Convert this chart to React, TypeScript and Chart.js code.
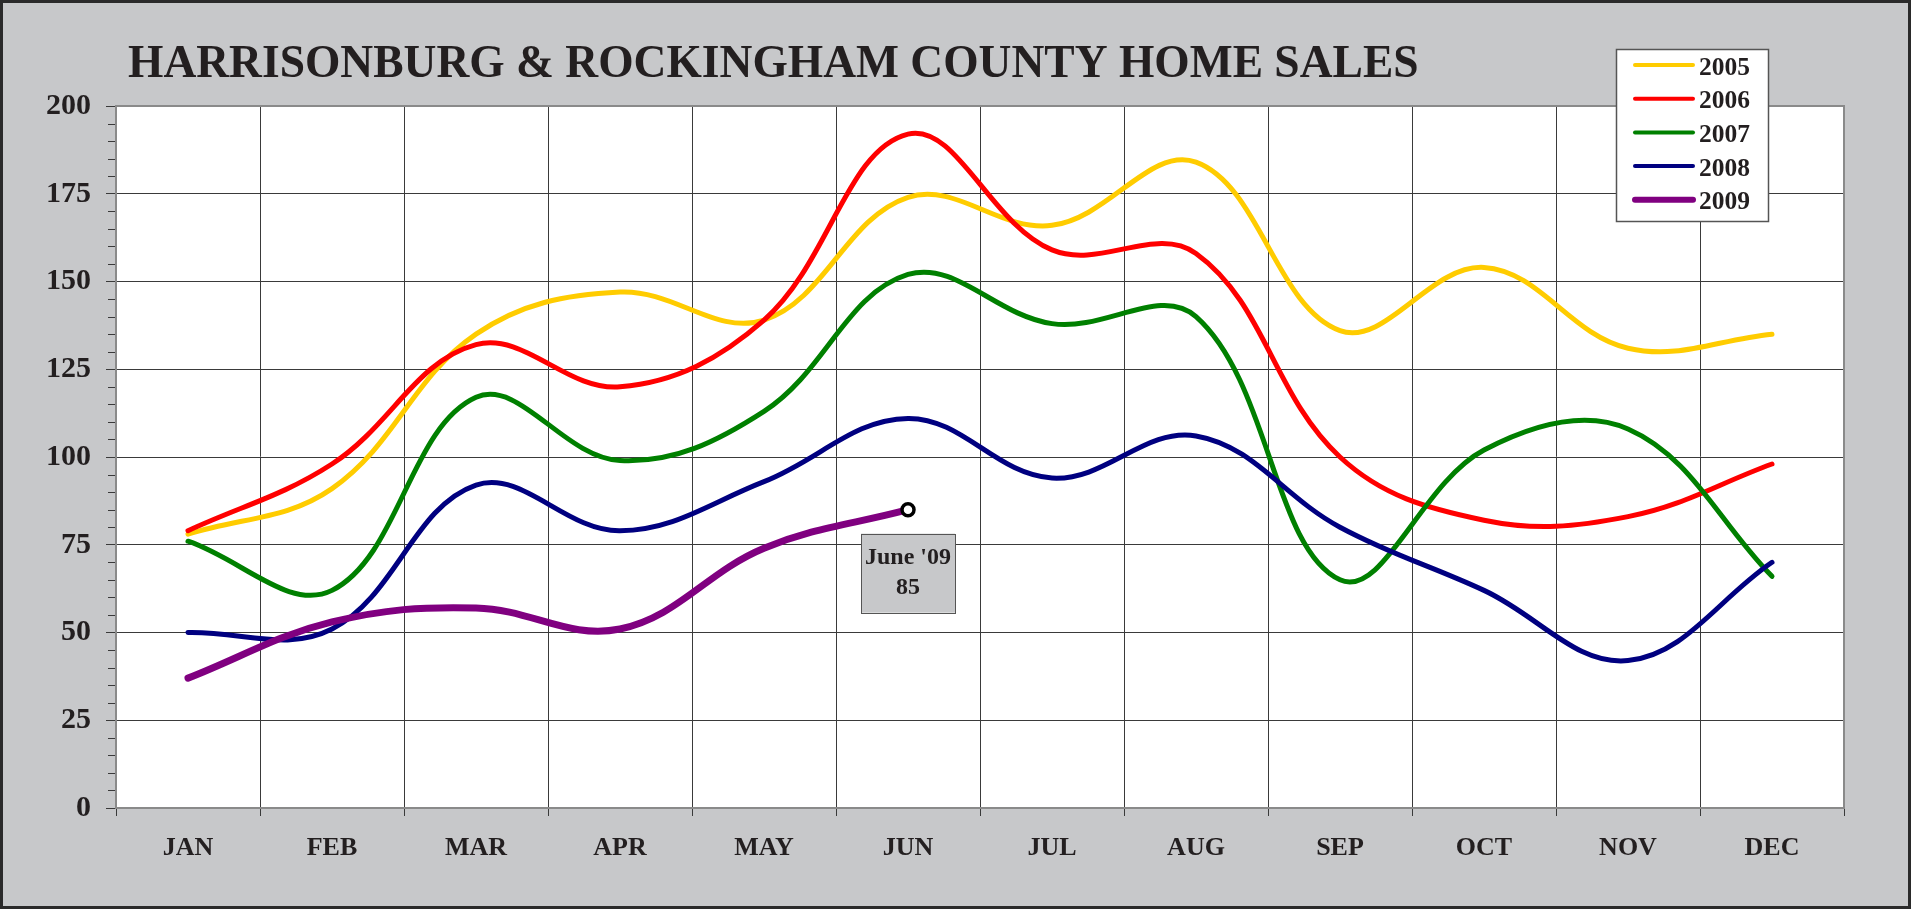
import React, { useEffect, useRef } from 'react';
import { Chart, registerables } from 'chart.js';

Chart.register(...registerables);

// ---- data ----
const MONTHS = ['JAN', 'FEB', 'MAR', 'APR', 'MAY', 'JUN', 'JUL', 'AUG', 'SEP', 'OCT', 'NOV', 'DEC'];
const YEARS = ['2005', '2006', '2007', '2008', '2009'];
const SALES_2005 = [78, 91, 135, 147, 139, 174, 166, 184, 136, 154, 131, 135];
const SALES_2006 = [79, 98, 132, 120, 139, 192, 159, 158, 100, 82, 83, 98];
const SALES_2007 = [76, 62, 117, 99, 113, 152, 138, 140, 65, 102, 108, 66];
const SALES_2008 = [50, 51, 92, 79, 93, 111, 94, 106, 80, 62, 42, 70];
const SALES_2009 = [37, 53, 57, 51, 74, 85];
const Y_MIN = 0;
const Y_MAX = 200;
const Y_STEP = 25;
const Y_MINOR_STEP = 5;
const TITLE = 'HARRISONBURG & ROCKINGHAM COUNTY HOME SALES';
const NOTE_LINES = ["June '09", '85'];

// ---- styles ----
const COLORS = ['#FFCC00', '#FF0000', '#008000', '#000080', '#800080'];
const WIDTHS = [5, 5, 5, 5, 7];
const SERIF = "'Liberation Serif', 'Times New Roman', serif";
const INK = '#231f20';
const BG = '#c7c8ca';
const GRID = '#3a3a3a';
const EDGE = '#8a8a8a';

const W = 1911;
const H = 909;

const decor = {
  id: 'decor',
  beforeDraw(chart: any) {
    const { ctx, chartArea: a } = chart;
    ctx.save();
    ctx.fillStyle = BG;
    ctx.fillRect(0, 0, chart.width, chart.height);
    ctx.fillStyle = '#ffffff';
    ctx.fillRect(a.left, a.top, a.right - a.left, a.bottom - a.top);
    ctx.restore();
  },
  beforeDatasetsDraw(chart: any) {
    const { ctx, chartArea: a } = chart;
    const y = chart.scales.y;
    ctx.save();
    ctx.strokeStyle = GRID;
    ctx.lineWidth = 1;
    ctx.beginPath();
    for (let v = Y_MIN; v <= Y_MAX; v += Y_MINOR_STEP) {
      if (v % Y_STEP === 0) continue;
      const py = Math.round(y.getPixelForValue(v)) + 0.5;
      ctx.moveTo(a.left - 8, py);
      ctx.lineTo(a.left, py);
    }
    ctx.stroke();
    ctx.strokeStyle = EDGE;
    ctx.lineWidth = 2;
    ctx.strokeRect(a.left, a.top, a.right - a.left, a.bottom - a.top);
    ctx.restore();
  },
  afterDraw(chart: any) {
    const { ctx } = chart;
    ctx.save();
    // title
    ctx.fillStyle = INK;
    ctx.font = `bold 45.5px ${SERIF}`;
    ctx.textAlign = 'left';
    ctx.textBaseline = 'alphabetic';
    ctx.fillText(TITLE, 128, 77);

    // legend
    const lx = 1616, ly = 49, lw = 152, lh = 172;
    ctx.fillStyle = '#ffffff';
    ctx.fillRect(lx, ly, lw, lh);
    ctx.strokeStyle = '#555555';
    ctx.lineWidth = 1.5;
    ctx.strokeRect(lx + 0.5, ly + 0.5, lw, lh);
    const ds = chart.data.datasets;
    ds.forEach((d: any, i: number) => {
      const yy = 65 + i * 33.7;
      ctx.strokeStyle = d.borderColor;
      ctx.lineWidth = i === 4 ? 6 : 4;
      ctx.lineCap = 'round';
      ctx.beginPath();
      ctx.moveTo(1635, yy);
      ctx.lineTo(1693, yy);
      ctx.stroke();
      ctx.fillStyle = INK;
      ctx.font = `bold 25.5px ${SERIF}`;
      ctx.textBaseline = 'middle';
      ctx.textAlign = 'left';
      ctx.fillText(d.label, 1699, yy + 3);
    });

    // annotation at the last 2009 point
    const meta = chart.getDatasetMeta(4);
    const pt = meta.data[meta.data.length - 1];
    if (pt) {
      const bw = 94, bh = 79;
      const bx = pt.x - bw / 2;
      const by = pt.y + 24;
      ctx.fillStyle = BG;
      ctx.fillRect(bx, by, bw, bh);
      ctx.strokeStyle = '#555555';
      ctx.lineWidth = 1;
      ctx.strokeRect(Math.round(bx) + 0.5, Math.round(by) + 0.5, bw, bh);
      ctx.fillStyle = INK;
      ctx.font = `bold 24px ${SERIF}`;
      ctx.textAlign = 'center';
      ctx.textBaseline = 'middle';
      ctx.fillText(NOTE_LINES[0], pt.x, by + 24);
      ctx.fillText(NOTE_LINES[1], pt.x, by + 54);
    }

    // outer frame
    ctx.strokeStyle = '#2a2a2a';
    ctx.lineWidth = 3;
    ctx.strokeRect(1.5, 1.5, chart.width - 3, chart.height - 3);
    ctx.restore();
  },
};

export default function App() {
  const ref = useRef<HTMLCanvasElement | null>(null);

  useEffect(() => {
    if (!ref.current) return;
    const series = [SALES_2005, SALES_2006, SALES_2007, SALES_2008, SALES_2009];
    const chart = new Chart(ref.current, {
      type: 'line',
      data: {
        labels: MONTHS,
        datasets: series.map((vals, i) => ({
          label: YEARS[i],
          data: vals,
          borderColor: COLORS[i],
          backgroundColor: COLORS[i],
          borderWidth: WIDTHS[i],
          tension: 0.38,
          fill: false,
          borderCapStyle: 'round',
          borderJoinStyle: 'round',
          order: series.length - 1 - i,
          pointRadius: i === 4 ? (c: any) => (c.dataIndex === vals.length - 1 ? 6 : 0) : 0,
          pointBackgroundColor: '#ffffff',
          pointBorderColor: '#000000',
          pointBorderWidth: 3.5,
          pointHoverRadius: 0,
        })) as any,
      },
      options: {
        responsive: false,
        animation: false,
        devicePixelRatio: 1,
        layout: { padding: { top: 106, right: 67, left: 0, bottom: 0 } },
        plugins: {
          legend: { display: false },
          title: { display: false },
          tooltip: { enabled: false },
        },
        events: [],
        scales: {
          x: {
            type: 'category',
            offset: true,
            afterFit: (s: any) => { s.height = 101; },
            grid: {
              offset: true,
              color: GRID,
              lineWidth: 1,
              tickLength: 8,
              tickColor: GRID,
              drawOnChartArea: true,
            },
            border: { display: true, color: EDGE, width: 2 },
            ticks: {
              color: INK,
              font: { family: SERIF, size: 26, weight: 'bold' },
              padding: 17,
              maxRotation: 0,
              autoSkip: false,
            },
          },
          y: {
            min: Y_MIN,
            max: Y_MAX,
            afterFit: (s: any) => { s.width = 116; },
            grid: {
              color: GRID,
              lineWidth: 1,
              tickLength: 10,
              tickColor: GRID,
            },
            border: { display: true, color: EDGE, width: 2 },
            ticks: {
              stepSize: Y_STEP,
              color: INK,
              font: { family: SERIF, size: 30, weight: 'bold' },
              padding: 15,
            },
          },
        },
      },
      plugins: [decor],
    });
    return () => chart.destroy();
  }, []);

  return (
    <div style={{ position: 'fixed', left: 0, top: 0, width: W, height: H }}>
      <canvas ref={ref} width={W} height={H} style={{ width: W, height: H, display: 'block' }} />
    </div>
  );
}
